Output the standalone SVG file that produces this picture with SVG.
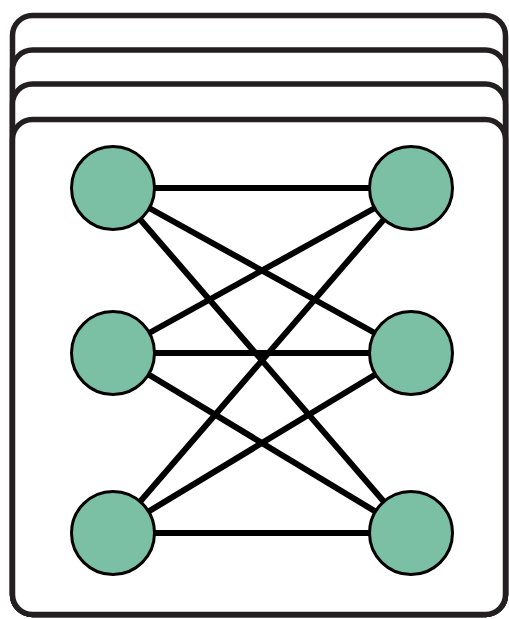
<svg xmlns="http://www.w3.org/2000/svg" width="509" height="619" viewBox="0 0 509 619">
<style>
.card{fill:#fff;stroke:#231f20;stroke-width:5.5}
.edge{stroke:#000;stroke-width:6;fill:none}
.node{fill:#7bbfa5;stroke:#000;stroke-width:3}
</style>
<rect width="509" height="619" fill="#fff"/>
<g id="stack">
<rect class="card" x="12.5" y="15.5" width="493" height="599" rx="20"/>
<rect class="card" x="12.5" y="50" width="493" height="564.5" rx="20"/>
<rect class="card" x="12.5" y="84" width="493" height="530.5" rx="20"/>
<rect class="card" x="12.5" y="119.5" width="493" height="495" rx="20"/>
</g>
<g id="connectors">
<line class="edge" x1="113" y1="188" x2="411" y2="188"/>
<line class="edge" x1="113" y1="188" x2="411" y2="353"/>
<line class="edge" x1="113" y1="188" x2="411" y2="533"/>
<line class="edge" x1="113" y1="353" x2="411" y2="188"/>
<line class="edge" x1="113" y1="353" x2="411" y2="353"/>
<line class="edge" x1="113" y1="353" x2="411" y2="533"/>
<line class="edge" x1="113" y1="533" x2="411" y2="188"/>
<line class="edge" x1="113" y1="533" x2="411" y2="353"/>
<line class="edge" x1="113" y1="533" x2="411" y2="533"/>
</g>
<g id="n1"><circle class="node" cx="113" cy="188" r="41.5"/></g>
<g id="n2"><circle class="node" cx="113" cy="353" r="41.5"/></g>
<g id="n3"><circle class="node" cx="113" cy="533" r="41.5"/></g>
<g id="n4"><circle class="node" cx="411" cy="188" r="41.5"/></g>
<g id="n5"><circle class="node" cx="411" cy="353" r="41.5"/></g>
<g id="n6"><circle class="node" cx="411" cy="533" r="41.5"/></g>
</svg>
